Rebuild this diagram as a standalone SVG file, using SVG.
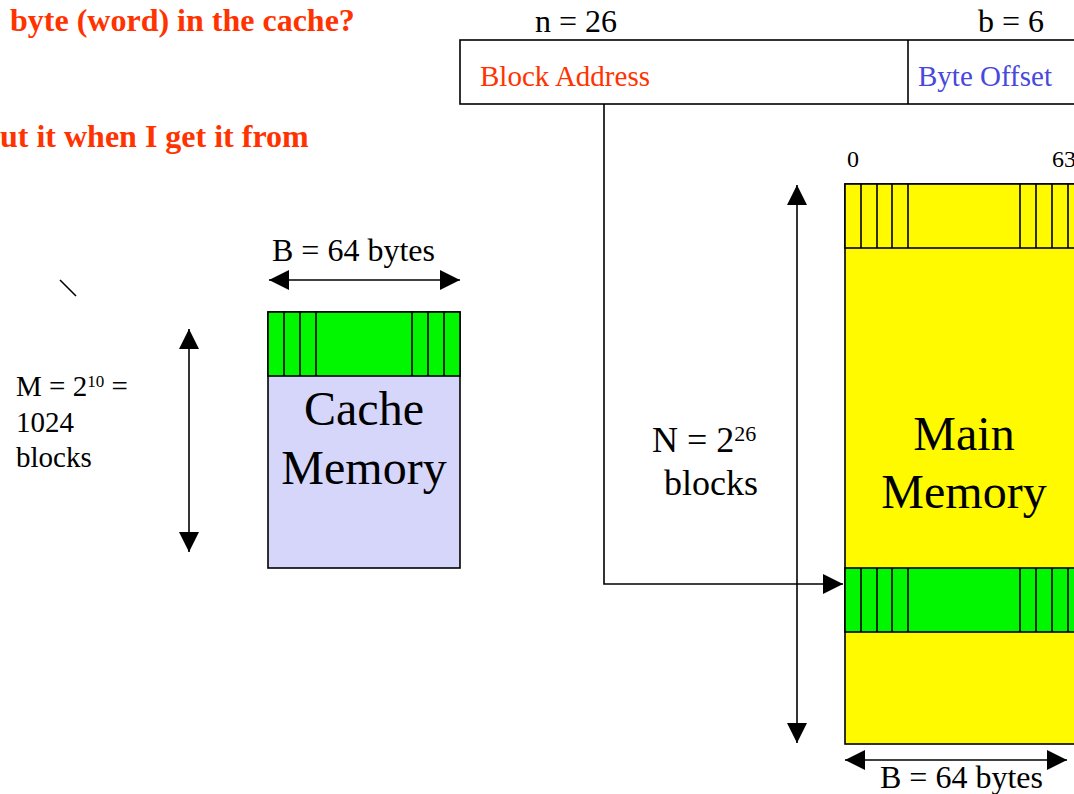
<svg xmlns="http://www.w3.org/2000/svg" width="1074" height="794" viewBox="0 0 1074 794" font-family="'Liberation Serif', 'Times New Roman', serif">
  <style>
    .title { font-size: 32px; font-weight: bold; fill: #FF3300; }
    .dim { font-size: 32px; }
    .field { font-size: 29px; }
    .side { font-size: 29px; }
    .big { font-size: 48px; text-anchor: middle; }
    .box { stroke: #000; stroke-width: 1.6; }
    .wire { fill: none; stroke: #000; stroke-width: 1.6; }
  </style>
  <defs>
    <marker id="arrow" viewBox="0 0 20 20" refX="20" refY="10" markerWidth="20" markerHeight="20" markerUnits="userSpaceOnUse" orient="auto-start-reverse">
      <path d="M0,0 L20,10 L0,20 z" fill="#000"/>
    </marker>
  </defs>

  <rect x="0" y="0" width="1074" height="794" fill="#fff"/>

  <!-- question text -->
  <g id="questions">
    <text class="title" x="10" y="31" font-family="Liberation Serif">byte (word) in the cache?</text>
    <text class="title" x="0" y="147" font-family="Liberation Serif">ut it when I get it from</text>
    <line x1="60" y1="280" x2="76" y2="296" stroke="#000" stroke-width="1.6"/>
  </g>

  <!-- address fields -->
  <g id="address" font-family="Liberation Serif">
    <text class="dim" x="576" y="32" text-anchor="middle">n = 26</text>
    <text class="dim" x="978" y="32">b = 6</text>
    <rect class="box" x="460" y="40" width="640" height="64" fill="#fff"/>
    <line class="box" x1="908" y1="40" x2="908" y2="104"/>
    <text class="field" x="480" y="86" fill="#FF3300">Block Address</text>
    <text class="field" x="918" y="86" fill="#4848DC">Byte Offset</text>
  </g>

  <!-- cache -->
  <g id="cache" font-family="Liberation Serif">
    <text class="dim" x="272" y="261">B = 64 bytes</text>
    <rect class="box" x="268" y="312" width="192" height="256" fill="#D5D6FA"/>
    <rect class="box" x="268" y="312" width="192" height="64" fill="#00F700"/>
    <path class="box" d="M284,312V376M300,312V376M316,312V376M412,312V376M428,312V376M444,312V376"/>
    <text class="big" x="364" y="425">Cache</text>
    <text class="big" x="364" y="484">Memory</text>
    <text class="side" x="16" y="396">M = 2<tspan font-size="17" dy="-9">10</tspan><tspan dy="9"> =</tspan></text>
    <text class="side" x="16" y="432">1024</text>
    <text class="side" x="16" y="467">blocks</text>
  </g>

  <!-- main memory -->
  <g id="main-memory" font-family="Liberation Serif">
    <text x="847" y="167" font-size="24">0</text>
    <text x="1052" y="167" font-size="24">63</text>
    <rect class="box" x="845" y="184" width="260" height="560" fill="#FFFA00"/>
    <rect class="box" x="845" y="184" width="260" height="64" fill="#FFFA00"/>
    <path class="box" d="M861,184V248M877,184V248M892,184V248M908,184V248M1020,184V248M1036,184V248M1052,184V248M1068,184V248"/>
    <rect class="box" x="845" y="568" width="260" height="64" fill="#00F700"/>
    <path class="box" d="M861,568V632M877,568V632M892,568V632M908,568V632M1020,568V632M1036,568V632M1052,568V632M1068,568V632"/>
    <text class="big" x="964" y="450">Main</text>
    <text class="big" x="964" y="508">Memory</text>
    <text x="652" y="452" font-size="36">N = 2<tspan font-size="22" dy="-11">26</tspan></text>
    <text x="664" y="495" font-size="36">blocks</text>
    <text class="dim" x="880" y="788">B = 64 bytes</text>
  </g>

  <!-- connectors and dimension arrows -->
  <g id="connectors">
    <path class="wire" d="M604,104 V584 H843" marker-end="url(#arrow)"/>
    <line class="wire" x1="797" y1="185" x2="797" y2="743" marker-start="url(#arrow)" marker-end="url(#arrow)"/>
    <line class="wire" x1="269" y1="280" x2="460" y2="280" marker-start="url(#arrow)" marker-end="url(#arrow)"/>
    <line class="wire" x1="189" y1="329" x2="189" y2="552" marker-start="url(#arrow)" marker-end="url(#arrow)"/>
    <line class="wire" x1="845" y1="760" x2="1067" y2="760" marker-start="url(#arrow)" marker-end="url(#arrow)"/>
  </g>
</svg>
